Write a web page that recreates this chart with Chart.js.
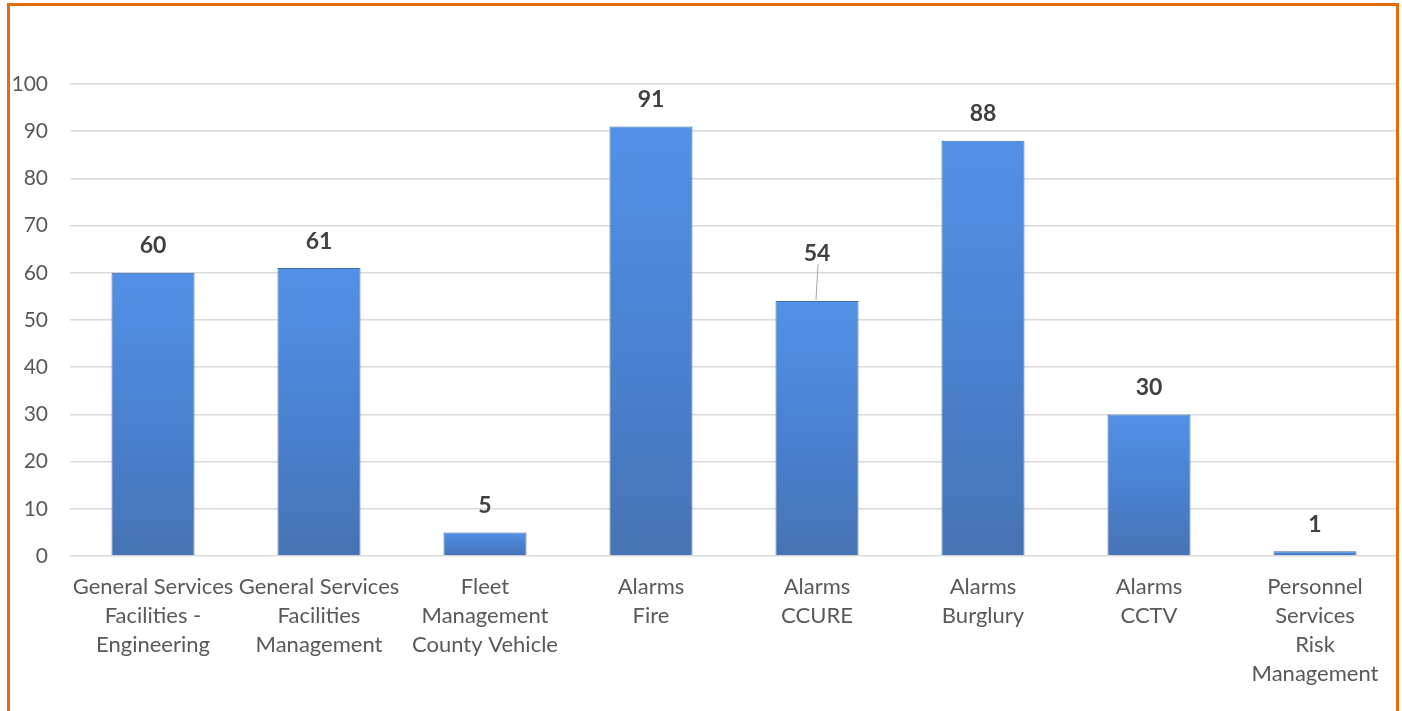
<!DOCTYPE html>
<html>
<head>
<meta charset="utf-8">
<script src="https://cdn.jsdelivr.net/npm/chart.js@4.4.1/dist/chart.umd.min.js"></script>
<style>
    html, body { margin: 0; padding: 0; background: #fff; overflow: hidden; }
    #wrap { position: relative; width: 1402px; height: 711px; }
    #frame {
        position: absolute; left: 7px; top: 3px; width: 1392px; height: 720px;
        border: 3px solid #E46C0A; box-sizing: border-box; pointer-events: none; z-index: 2;
    }
    canvas { position: absolute; left: 0; top: 0; }
</style>
</head>
<body>
<div id="wrap">
    <canvas id="chart" width="1402" height="711"></canvas>
    <div id="frame"></div>
</div>
<script>
const categories = [
    ['General Services', 'Facilities -', 'Engineering'],
    ['General Services', 'Facilities', 'Management'],
    ['Fleet', 'Management', 'County Vehicle'],
    ['Alarms', 'Fire'],
    ['Alarms', 'CCURE'],
    ['Alarms', 'Burglury'],
    ['Alarms', 'CCTV'],
    ['Personnel', 'Services', 'Risk', 'Management']
];
const counts = [60, 61, 5, 91, 54, 88, 30, 1];
const yTicks = [0, 10, 20, 30, 40, 50, 60, 70, 80, 90, 100];

const fontFamily = 'Lato, "Open Sans", sans-serif';

// bar fill: lighter at the top, darker towards the base (per bar)
function barFill(ctx) {
    const chart = ctx.chart;
    const y = chart.scales.y;
    if (!chart.chartArea || !y) return '#4A80CF';
    const top = y.getPixelForValue(ctx.raw);
    const base = y.getPixelForValue(0);
    const g = chart.ctx.createLinearGradient(0, top, 0, base);
    g.addColorStop(0, '#5291E6');
    g.addColorStop(0.55, '#4A80CF');
    g.addColorStop(1, '#4674B4');
    return g;
}

// value labels above bars, the 54 one is lifted with a leader line
const valueLabels = {
    id: 'valueLabels',
    afterDatasetsDraw(chart) {
        const ctx = chart.ctx;
        const meta = chart.getDatasetMeta(0);
        ctx.save();
        ctx.font = 'bold 23px ' + fontFamily;
        ctx.fillStyle = '#404040';
        ctx.textAlign = 'center';
        ctx.textBaseline = 'middle';
        meta.data.forEach((bar, i) => {
            let lift = 27;
            if (i === 4) {
                lift = 48;
                ctx.strokeStyle = '#A6A6A6';
                ctx.lineWidth = 1;
                ctx.beginPath();
                ctx.moveTo(bar.x + 1, bar.y - 37);
                ctx.lineTo(bar.x - 1, bar.y - 1);
                ctx.stroke();
            }
            ctx.fillText(String(counts[i]), bar.x, bar.y - lift);
        });
        ctx.restore();
    }
};

new Chart(document.getElementById('chart'), {
    type: 'bar',
    data: {
        labels: categories,
        datasets: [{
            data: counts,
            backgroundColor: barFill,
            borderColor: '#3F6AA6',
            borderWidth: 1,
            barPercentage: 0.5,
            categoryPercentage: 1.0
        }]
    },
    options: {
        responsive: false,
        animation: false,
        layout: { padding: { top: 84, left: 10, right: 4, bottom: 0 } },
        plugins: {
            legend: { display: false },
            tooltip: { enabled: false }
        },
        scales: {
            x: {
                grid: { display: false, drawTicks: false },
                border: { display: false },
                ticks: {
                    color: '#595959',
                    font: { family: fontFamily, size: 22, lineHeight: 1.32 },
                    padding: 16,
                    maxRotation: 0,
                    autoSkip: false
                },
                afterFit(scale) { scale.height = 155; }
            },
            y: {
                min: 0,
                max: 100,
                afterBuildTicks(scale) { scale.ticks = yTicks.map(v => ({ value: v })); },
                grid: { color: '#D9D9D9', lineWidth: 1.5, drawTicks: false },
                border: { display: false },
                ticks: {
                    color: '#595959',
                    font: { family: fontFamily, size: 21 },
                    padding: 22
                },
                afterFit(scale) { scale.width = 60; }
            }
        }
    },
    plugins: [valueLabels]
});
</script>
</body>
</html>
